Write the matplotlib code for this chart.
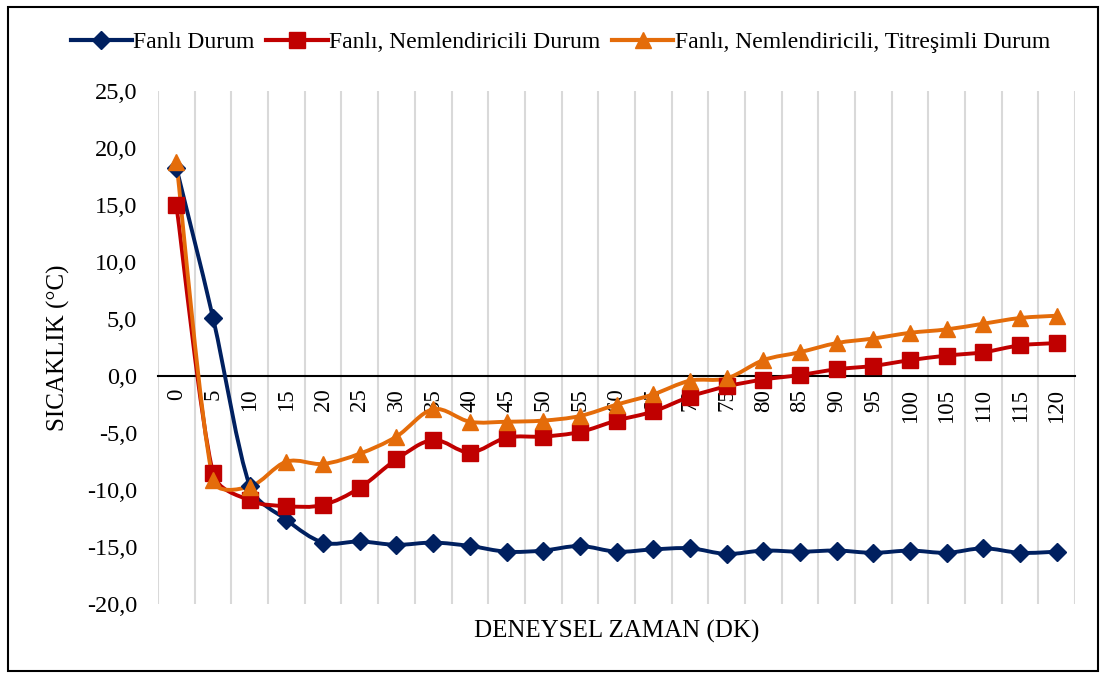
import matplotlib.pyplot as plt
import numpy as np
from matplotlib.path import Path
from matplotlib.patches import PathPatch, Rectangle
from matplotlib.lines import Line2D

plt.rcParams['font.family'] = ['Liberation Serif', 'DejaVu Serif']

# x categories (minutes)
minutes = [0, 5, 10, 15, 20, 25, 30, 35, 40, 45, 50, 55, 60,
           65, 70, 75, 80, 85, 90, 95, 100, 105, 110, 115, 120]

fanli = [18.3, 5.1, -9.6, -12.6, -14.6, -14.5, -14.8, -14.6, -14.9, -15.4,
         -15.3, -14.9, -15.4, -15.2, -15.1, -15.6, -15.3, -15.4, -15.3, -15.5,
         -15.3, -15.5, -15.1, -15.5, -15.4]
nemli = [15.0, -8.5, -10.9, -11.4, -11.3, -9.8, -7.3, -5.6, -6.7, -5.4,
         -5.3, -4.9, -3.9, -3.1, -1.8, -0.9, -0.3, 0.1, 0.6, 0.9,
         1.4, 1.8, 2.1, 2.7, 2.9]
titresimli = [18.8, -9.1, -9.7, -7.5, -7.7, -6.8, -5.3, -2.9, -4.0, -4.0,
              -3.9, -3.5, -2.5, -1.6, -0.4, -0.2, 1.4, 2.1, 2.9, 3.3,
              3.8, 4.1, 4.6, 5.1, 5.3]

names = ['Fanlı Durum', 'Fanlı, Nemlendiricili Durum',
         'Fanlı, Nemlendiricili, Titreşimli Durum']
colors = ['#002060', '#C00000', '#E46C0A']
markers = ['D', 's', '^']
msizes = [9, 11, 11]

fig = plt.figure(figsize=(11.05, 6.75), dpi=100)
ax = fig.add_axes([0.143, 0.105, 0.83, 0.76])
ax.set_xlim(-0.5, len(minutes) - 0.5)
ax.set_ylim(-20, 25)

# pixel scale of one data unit, used to shape the smooth curves
bb = ax.get_window_extent()
sx = bb.width / len(minutes)
sy = bb.height / 45.0


def smooth_path(x, y):
    # cubic bezier through the points, like Excel's smoothed line
    pts = np.column_stack([np.asarray(x) * sx, np.asarray(y) * sy]).astype(float)
    n = len(pts)
    verts = [pts[0]]
    codes = [Path.MOVETO]
    for i in range(n - 1):
        p0 = pts[i - 1] if i > 0 else pts[i]
        p1 = pts[i]
        p2 = pts[i + 1]
        p3 = pts[i + 2] if i + 2 < n else pts[i + 1]
        chord = np.hypot(*(p2 - p1))
        t1 = (p2 - p0) / 6.0
        t2 = (p3 - p1) / 6.0
        lim = 0.4 * chord
        if np.hypot(*t1) > lim:
            t1 = t1 / np.hypot(*t1) * lim
        if np.hypot(*t2) > lim:
            t2 = t2 / np.hypot(*t2) * lim
        verts += [p1 + t1, p2 - t2, p2]
        codes += [Path.CURVE4] * 3
    verts = np.array(verts)
    verts[:, 0] /= sx
    verts[:, 1] /= sy
    return Path(verts, codes)


xs = np.arange(len(minutes))
ax.spines['bottom'].set_position(('data', 0))
for vals, c, m, ms in zip([fanli, nemli, titresimli], colors, markers, msizes):
    ax.add_patch(PathPatch(smooth_path(xs, vals), fill=False, edgecolor=c,
                           lw=2.8, zorder=3))
    ax.plot(xs, vals, linestyle='none', marker=m, color=c, markersize=ms,
            zorder=4)

ax.set_yticks(np.arange(-20, 26, 5))
ax.set_yticklabels([f'{v:.1f}'.replace('.', ',') for v in np.arange(-20, 26, 5)],
                   fontsize=17.5)
ax.set_xticks(xs)
ax.set_xticklabels([str(m) for m in minutes], rotation=90, fontsize=16.5,
                   va='top', ha='center')
ax.set_xticks(np.arange(-0.5, len(minutes), 1), minor=True)
ax.tick_params(axis='both', which='both', length=0)
ax.tick_params(axis='x', pad=9)
ax.tick_params(axis='y', pad=15)
ax.grid(which='minor', axis='x', color='#D9D9D9', lw=1.5)
ax.grid(which='major', axis='x', visible=False)

for s in ['left', 'right', 'top']:
    ax.spines[s].set_visible(False)
ax.spines['bottom'].set_linewidth(1.5)
ax.spines['bottom'].set_zorder(2)

ax.set_ylabel('SICAKLIK (°C)', fontsize=18, labelpad=12)
fig.text(0.558, 0.065, 'DENEYSEL ZAMAN (DK)', fontsize=18, ha='center',
         va='center')

handles = [Line2D([], [], color=c, marker=m, markersize=ms, lw=3)
           for c, m, ms in zip(colors, markers, msizes)]
fig.legend(handles, names, loc='center', bbox_to_anchor=(0.507, 0.937),
           ncol=3, frameon=False, fontsize=17, handlelength=2.6,
           handletextpad=0.05, columnspacing=0.5)

fig.patches.append(Rectangle((0.007, 0.006), 0.987, 0.984, fill=False,
                             edgecolor='black', lw=1.5,
                             transform=fig.transFigure, figure=fig))

fig.savefig('out.png', dpi=100)
